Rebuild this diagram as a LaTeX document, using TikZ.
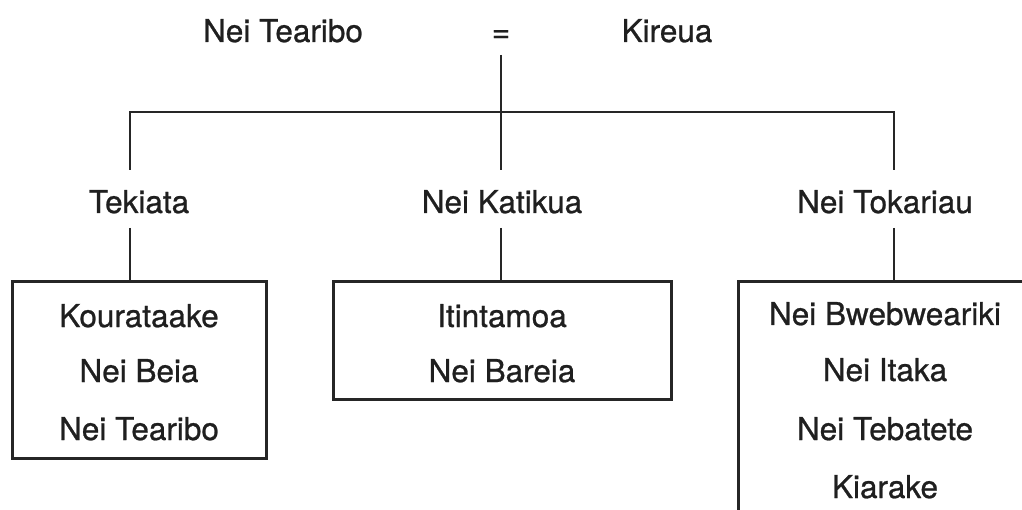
\documentclass[tikz,border=0pt]{standalone}
\usepackage{fontspec}
\setmainfont[FakeBold=0.8]{TeX Gyre Heros}
\begin{document}
\begin{tikzpicture}[x=1pt,y=-1pt,
  lbl/.style={anchor=base,inner sep=0pt,text=black!88,font=\fontsize{31.5}{37}\selectfont},
  ln/.style={draw=black!85,line width=2.6pt},
  boxst/.style={draw=black!85,line width=3pt,inner sep=0pt}]
\useasboundingbox (0,0) rectangle (1022,510);
\clip (0,0) rectangle (1022,510);
\fill[white] (0,0) rectangle (1022,510);
% parents
\node[lbl] (pa) at (283,42) {Nei Tearibo};
\node[lbl] (eq) at (501,42) {=};
\node[lbl] (pb) at (667,42) {Kireua};
% junction coordinates
\coordinate (m0) at (501,55);
\coordinate (j) at (501,112);
\coordinate (jl) at (130,112);
\coordinate (jr) at (894,112);
\coordinate (cl) at (130,170);
\coordinate (cm) at (501,170);
\coordinate (cr) at (894,170);
\draw[ln] (m0) -- (j);
\draw[ln,line cap=rect] (jl) -- (jr);
\draw[ln] (jl) -- (cl);
\draw[ln] (j) -- (cm);
\draw[ln] (jr) -- (cr);
% children
\node[lbl] (c1) at (139,213) {Tekiata};
\node[lbl] (c2) at (502,213) {Nei Katikua};
\node[lbl] (c3) at (885,213) {Nei Tokariau};
\coordinate (d1) at (130,228);
\coordinate (d2) at (501,228);
\coordinate (d3) at (894,228);
% boxes
\node[boxst,minimum width=254pt,minimum height=176pt] (b1) at (139,370) {};
\node[boxst,minimum width=338pt,minimum height=117pt] (b2) at (502,340.5) {};
\coordinate (b3a) at (738,540);
\coordinate (b3b) at (738,282);
\coordinate (b3c) at (1040,282);
\draw[boxst,line join=miter] (b3a) -- (b3b) -- (b3c);
\draw[ln] (d1) -- (d1 |- b1.north);
\draw[ln] (d2) -- (d2 |- b2.north);
\draw[ln] (d3) -- (b3b -| d3);
% grandchildren
\node[lbl] (g11) at (139,327) {Kourataake};
\node[lbl] (g12) at (139,382) {Nei Beia};
\node[lbl] (g13) at (139,440) {Nei Tearibo};
\node[lbl] (g21) at (502,327) {Itintamoa};
\node[lbl] (g22) at (502,382) {Nei Bareia};
\node[lbl] (g31) at (885,325) {Nei Bwebweariki};
\node[lbl] (g32) at (885,381) {Nei Itaka};
\node[lbl] (g33) at (885,440) {Nei Tebatete};
\node[lbl] (g34) at (885,498) {Kiarake};
\end{tikzpicture}
\end{document}
